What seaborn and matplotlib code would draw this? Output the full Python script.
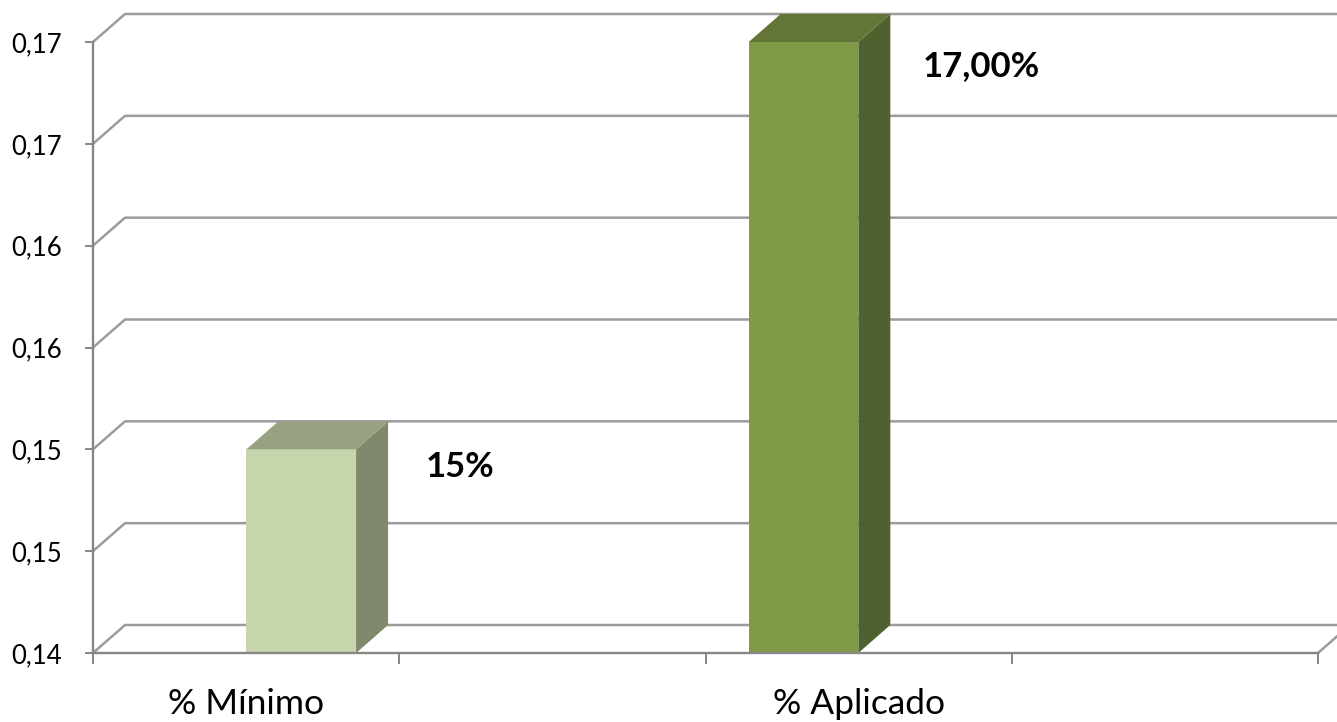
import numpy as np
import pandas as pd
import matplotlib
matplotlib.use("Agg")
import matplotlib.pyplot as plt
import seaborn as sns
from matplotlib.patches import Polygon
from matplotlib.lines import Line2D

# ---------------- data ----------------
categories = ["% Mínimo", "% Aplicado"]
values = [0.15, 0.17]
value_labels = ["15%", "17,00%"]
ytick_values = [0.14, 0.145, 0.15, 0.155, 0.16, 0.165, 0.17]
ytick_labels = ["0,14", "0,15", "0,15", "0,16", "0,16", "0,17", "0,17"]

# ---------------- layout / style ----------------
W, H = 1337, 722
bar_pos = [0.68, 2.32]          # bar centres on a 4-slot axis
label_pos = [0.5, 2.5]          # category label centres
bar_width = 0.358
front_colors = ["#c6d5ab", "#7f9b48"]
top_colors = ["#98a282", "#637638"]
side_colors = ["#7f896c", "#506130"]
depth_px = (32, 28)
label_offsets_px = [(70, -28), (64, -34)]
axis_col = "#868686"
grid_col = "#9c9c9c"

sns.set_theme(style="white")
plt.rcParams['font.family'] = ['Lato', 'DejaVu Sans']

fig = plt.figure(figsize=(W / 100, H / 100), dpi=100)
ax_l, ax_r, ax_t, ax_b = 93, 1318, 42, 653
ax = fig.add_axes([ax_l / W, (H - ax_b) / H, (ax_r - ax_l) / W, (ax_b - ax_t) / H])

df = pd.DataFrame({"pos": bar_pos, "value": values, "cat": categories})
sns.barplot(data=df, x="pos", y="value", hue="cat", hue_order=categories,
            palette=front_colors, native_scale=True, saturation=1,
            width=bar_width / (bar_pos[1] - bar_pos[0]), legend=False,
            linewidth=0, ax=ax, zorder=3)

ax.set_xlim(0, 4)
ax.set_ylim(ytick_values[0], ytick_values[-1])
ax.set_xlabel("")
ax.set_ylabel("")

# depth in data units
x0l, x1l = ax.get_xlim()
y0l, y1l = ax.get_ylim()
ddx = depth_px[0] / (ax_r - ax_l) * (x1l - x0l)
ddy = depth_px[1] / (ax_b - ax_t) * (y1l - y0l)

# spines / ticks
for s in ["top", "right"]:
    ax.spines[s].set_visible(False)
for s in ["left", "bottom"]:
    ax.spines[s].set_color(axis_col)
    ax.spines[s].set_linewidth(1.7)
    ax.spines[s].set_zorder(4)

ax.set_yticks(ytick_values, ytick_labels)
ax.set_xticks(np.arange(0, 5), [""] * 5)
ax.tick_params(axis="y", which="major", length=6, width=1.4, color=axis_col,
               direction="out", left=True, pad=16.5, labelsize=18.5, labelcolor="black")
ax.tick_params(axis="x", which="major", length=8, width=1.4, color=axis_col,
               direction="out", bottom=True)

# back-wall gridlines with 3D depth
for yv in ytick_values:
    ax.add_line(Line2D([x0l, x0l + ddx, x1l + ddx], [yv, yv + ddy, yv + ddy],
                       color=grid_col, lw=1.8, clip_on=False, zorder=1))
# right floor edge
ax.add_line(Line2D([x1l, x1l + ddx], [y0l, y0l + ddy], color=grid_col,
                   lw=1.8, clip_on=False, zorder=1))

# 3D faces on bars
for i, p in enumerate(ax.patches):
    xa = p.get_x()
    xb = xa + p.get_width()
    v = p.get_y() + p.get_height()
    base = y0l
    side = Polygon([(xb, base), (xb, v), (xb + ddx, v + ddy), (xb + ddx, base + ddy)],
                   closed=True, facecolor=side_colors[i], edgecolor="none",
                   clip_on=False, zorder=3)
    top = Polygon([(xa, v), (xb, v), (xb + ddx, v + ddy), (xa + ddx, v + ddy)],
                  closed=True, facecolor=top_colors[i], edgecolor="none",
                  clip_on=False, zorder=3)
    ax.add_patch(side)
    ax.add_patch(top)
    ox, oy = label_offsets_px[i]
    ax.annotate(value_labels[i], xy=(xb, v), xytext=(ox * 0.72, oy * 0.72),
                textcoords="offset points", ha="left", va="baseline",
                fontsize=25, fontweight="bold", color="black",
                annotation_clip=False, zorder=5)

# category labels
for cat, lp in zip(categories, label_pos):
    ax.annotate(cat, xy=(lp, y0l), xytext=(0, -61 * 0.72), textcoords="offset points",
                ha="center", va="baseline", fontsize=25.5, color="black",
                annotation_clip=False)

fig.savefig("out.png", dpi=100, facecolor="white")
